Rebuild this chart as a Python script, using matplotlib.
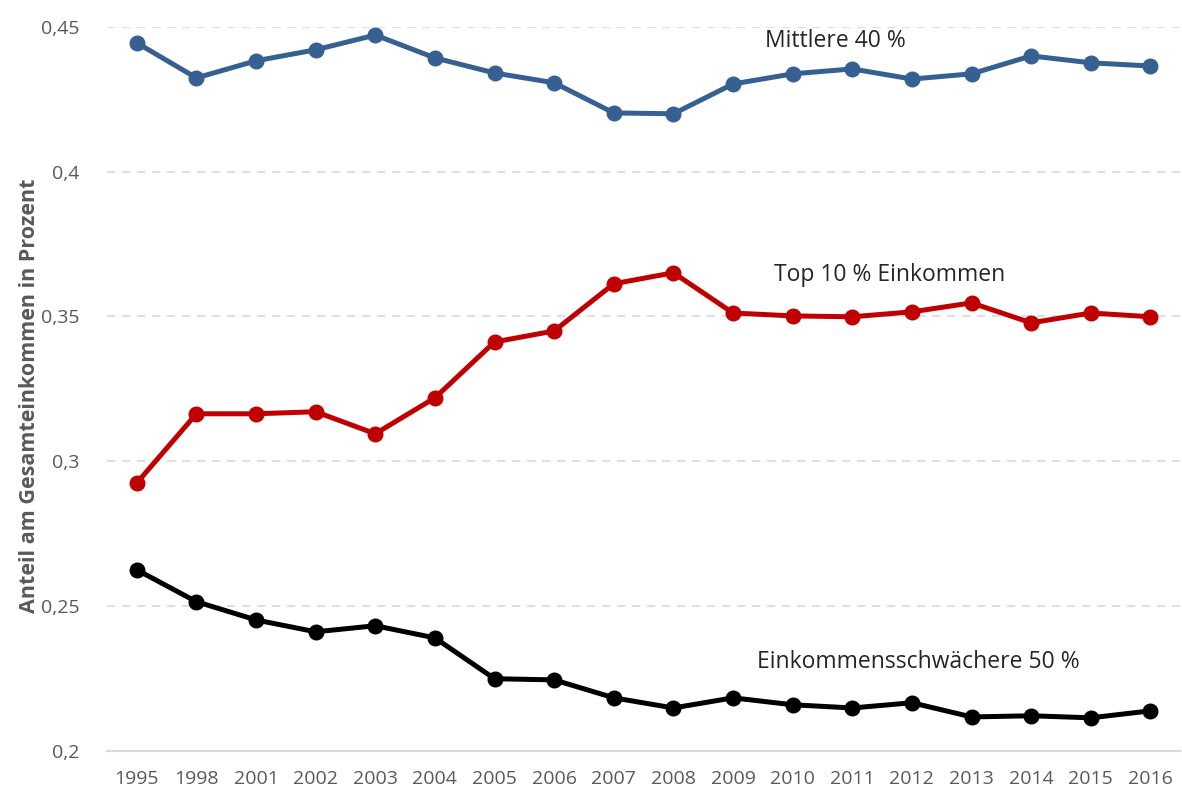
import matplotlib.pyplot as plt

years = ['1995', '1998', '2001', '2002', '2003', '2004', '2005', '2006', '2007', '2008', '2009',
         '2010', '2011', '2012', '2013', '2014', '2015', '2016']
# the axis is categorical, so spacing is even even though the years are not
mittlere = [0.4445, 0.4324, 0.4383, 0.4421, 0.4472, 0.4393, 0.4341, 0.4307, 0.4203, 0.4200, 0.4303,
            0.4338, 0.4355, 0.4320, 0.4338, 0.4400, 0.4376, 0.4365]
top10 = [0.2925, 0.3164, 0.3164, 0.3171, 0.3095, 0.3219, 0.3412, 0.3450, 0.3613, 0.3651, 0.3512,
         0.3502, 0.3499, 0.3516, 0.3547, 0.3478, 0.3512, 0.3499]
unten50 = [0.2625, 0.2515, 0.2452, 0.2411, 0.2432, 0.2390, 0.2249, 0.2245, 0.2183, 0.2148, 0.2183,
           0.2159, 0.2148, 0.2166, 0.2117, 0.2121, 0.2114, 0.2138]

yticks = [0.2, 0.25, 0.3, 0.35, 0.4, 0.45]
ytick_labels = ['0,2', '0,25', '0,3', '0,35', '0,4', '0,45']

plt.rcParams['font.family'] = ['Open Sans', 'DejaVu Sans']

fig = plt.figure(figsize=(11.82, 7.92), dpi=100)
ax = fig.add_axes([0.0905, 0.052, 0.908, 0.914])

x = list(range(len(years)))
ax.plot(x, mittlere, color='#366092', lw=3.6, marker='o', ms=10.5, zorder=3)
ax.plot(x, top10, color='#c00000', lw=3.6, marker='o', ms=10.5, zorder=3)
ax.plot(x, unten50, color='black', lw=3.6, marker='o', ms=10.5, zorder=3)

ax.text(11.71, 0.4453, 'Mittlere 40 %', ha='center', va='center', fontsize=16.5, color='#262626')
ax.text(12.63, 0.3644, 'Top 10 % Einkommen', ha='center', va='center', fontsize=16.5, color='#262626')
ax.text(13.1, 0.2307, 'Einkommensschwächere 50 %', ha='center', va='center', fontsize=16.5,
        color='#262626')

ax.set_xlim(-0.5, len(years) - 0.5)
ax.set_ylim(0.2, 0.45)
ax.set_xticks(x)
ax.set_xticklabels(years)
ax.set_yticks(yticks)
ax.set_yticklabels(ytick_labels)
ax.tick_params(length=0, labelsize=14, labelcolor='#595959')
ax.tick_params(axis='x', pad=14)
ax.tick_params(axis='y', pad=20)

ax.grid(axis='y', color='#d9d9d9', ls=(0, (5, 4)), lw=1.2, zorder=0)
for side in ['top', 'right', 'left']:
    ax.spines[side].set_visible(False)
ax.spines['bottom'].set_color('#d9d9d9')
ax.spines['bottom'].set_linewidth(1.5)

ax.set_ylabel('Anteil am Gesamteinkommen in Prozent', fontsize=15.5, fontweight='bold',
              color='#595959')
ax.yaxis.set_label_coords(-0.062, 0.49)

fig.savefig('out.png', dpi=100)
